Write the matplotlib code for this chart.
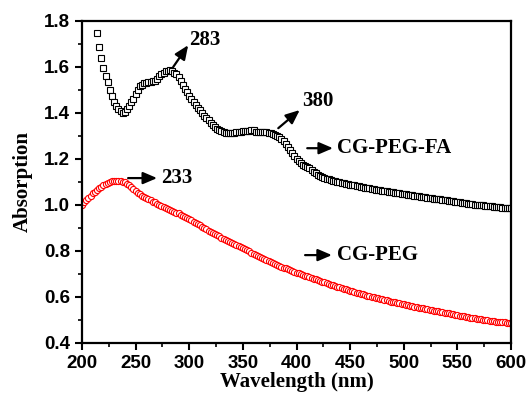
import numpy as np
import matplotlib
matplotlib.use("Agg")
import matplotlib.pyplot as plt

# UV-vis absorption spectra (2 nm steps)
wl_fa = np.arange(214, 601, 2)
abs_fa = [
    1.746, 1.687, 1.638, 1.593, 1.561, 1.532, 1.500, 1.474, 1.449, 1.430,
    1.418, 1.407, 1.401, 1.403, 1.416, 1.430, 1.445, 1.462, 1.480, 1.500,
    1.515, 1.523, 1.528, 1.531, 1.533, 1.535, 1.537, 1.540, 1.548, 1.558,
    1.567, 1.575, 1.580, 1.583, 1.584, 1.582, 1.575, 1.567, 1.555, 1.538,
    1.522, 1.505, 1.490, 1.475, 1.460, 1.449, 1.435, 1.422, 1.410, 1.398,
    1.387, 1.378, 1.369, 1.357, 1.345, 1.337, 1.330, 1.324, 1.319, 1.316,
    1.314, 1.313, 1.313, 1.313, 1.314, 1.315, 1.316, 1.318, 1.319, 1.320,
    1.321, 1.322, 1.326, 1.324, 1.317, 1.315, 1.315, 1.315, 1.315, 1.315,
    1.314, 1.312, 1.309, 1.305, 1.300, 1.293, 1.285, 1.276, 1.264, 1.250,
    1.237, 1.225, 1.212, 1.200, 1.190, 1.182, 1.175, 1.169, 1.164, 1.158,
    1.149, 1.141, 1.136, 1.131, 1.125, 1.121, 1.117, 1.114, 1.111, 1.108,
    1.105, 1.102, 1.100, 1.098, 1.096, 1.094, 1.092, 1.090, 1.088, 1.086,
    1.084, 1.082, 1.081, 1.079, 1.077, 1.075, 1.073, 1.071, 1.069, 1.068,
    1.066, 1.064, 1.063, 1.061, 1.060, 1.058, 1.057, 1.055, 1.054, 1.052,
    1.051, 1.049, 1.048, 1.047, 1.045, 1.044, 1.042, 1.041, 1.040, 1.038,
    1.037, 1.035, 1.034, 1.033, 1.031, 1.030, 1.028, 1.027, 1.026, 1.024,
    1.023, 1.021, 1.020, 1.019, 1.017, 1.016, 1.015, 1.013, 1.012, 1.011,
    1.009, 1.008, 1.007, 1.005, 1.004, 1.003, 1.001, 1.000, 0.999, 0.998,
    0.997, 0.996, 0.995, 0.994, 0.993, 0.992, 0.991, 0.990, 0.989, 0.988,
    0.987, 0.986, 0.985, 0.984,
]

wl_peg = np.arange(200, 601, 2)
abs_peg = [
    1.000, 1.010, 1.020, 1.030, 1.040, 1.049, 1.057, 1.065, 1.072, 1.079,
    1.085, 1.090, 1.095, 1.099, 1.102, 1.104, 1.105, 1.105, 1.104, 1.101,
    1.097, 1.092, 1.085, 1.077, 1.068, 1.060, 1.053, 1.046, 1.040, 1.034,
    1.028, 1.023, 1.019, 1.014, 1.010, 1.005, 1.001, 0.996, 0.992, 0.987,
    0.983, 0.979, 0.975, 0.970, 0.966, 0.962, 0.957, 0.952, 0.947, 0.942,
    0.937, 0.932, 0.926, 0.921, 0.915, 0.910, 0.904, 0.899, 0.893, 0.888,
    0.882, 0.877, 0.872, 0.867, 0.862, 0.857, 0.852, 0.848, 0.843, 0.839,
    0.834, 0.830, 0.826, 0.821, 0.817, 0.813, 0.808, 0.803, 0.797, 0.792,
    0.787, 0.782, 0.777, 0.772, 0.767, 0.762, 0.758, 0.754, 0.750, 0.746,
    0.742, 0.738, 0.734, 0.731, 0.727, 0.723, 0.719, 0.716, 0.712, 0.709,
    0.705, 0.702, 0.698, 0.695, 0.691, 0.688, 0.685, 0.682, 0.678, 0.675,
    0.672, 0.669, 0.666, 0.662, 0.659, 0.656, 0.653, 0.650, 0.647, 0.644,
    0.641, 0.638, 0.635, 0.632, 0.629, 0.626, 0.623, 0.620, 0.618, 0.615,
    0.612, 0.610, 0.607, 0.605, 0.602, 0.600, 0.598, 0.595, 0.593, 0.590,
    0.588, 0.586, 0.584, 0.581, 0.579, 0.577, 0.575, 0.573, 0.571, 0.569,
    0.567, 0.565, 0.563, 0.561, 0.559, 0.557, 0.555, 0.553, 0.551, 0.549,
    0.547, 0.545, 0.543, 0.542, 0.540, 0.538, 0.536, 0.534, 0.533, 0.531,
    0.529, 0.527, 0.525, 0.524, 0.522, 0.520, 0.518, 0.516, 0.515, 0.513,
    0.511, 0.509, 0.508, 0.506, 0.505, 0.503, 0.502, 0.500, 0.499, 0.497,
    0.496, 0.495, 0.494, 0.492, 0.491, 0.490, 0.489, 0.488, 0.486, 0.485,
    0.484,
]

xticks = [200, 250, 300, 350, 400, 450, 500, 550, 600]
yticks = [0.4, 0.6, 0.8, 1.0, 1.2, 1.4, 1.6, 1.8]

fig = plt.figure(figsize=(5.31, 3.93), dpi=100)
ax = fig.add_axes([0.1544, 0.128, 0.808, 0.819])

ax.plot(wl_fa, abs_fa, ls="none", marker="s", ms=4.0, mfc="white",
        mec="black", mew=0.8)
ax.plot(wl_peg, abs_peg, ls="none", marker="o", ms=4.4, mfc="white",
        mec="red", mew=0.8)

ax.set_xlim(200, 600)
ax.set_ylim(0.4, 1.8)
ax.set_xticks(xticks)
ax.set_yticks(yticks)
ax.set_xticks([225, 275, 325, 375, 425, 475, 525, 575], minor=True)
ax.set_yticks([0.5, 0.7, 0.9, 1.1, 1.3, 1.5, 1.7], minor=True)
ax.set_yticklabels(["%.1f" % v for v in yticks])
ax.tick_params(which="major", direction="out", length=5, width=1.5)
ax.tick_params(which="minor", direction="out", length=3, width=1.2)
for lab in ax.get_xticklabels() + ax.get_yticklabels():
    lab.set_family("Liberation Sans")
    lab.set_fontweight("bold")
    lab.set_fontsize(13.5)
for sp in ax.spines.values():
    sp.set_linewidth(1.6)

serif = dict(family="Liberation Serif", fontweight="bold")
ax.set_xlabel("Wavelength (nm)", fontsize=15, labelpad=0, **serif)
ax.set_ylabel("Absorption", fontsize=15, labelpad=8, **serif)

arw = dict(arrowstyle="-|>,head_length=0.7,head_width=0.3", color="black",
           lw=1.6, mutation_scale=12, shrinkA=0, shrinkB=0)
ax.annotate("", xy=(299, 1.694), xytext=(285, 1.599), arrowprops=arw)
ax.text(300, 1.716, "283", fontsize=15, va="center", **serif)
ax.annotate("", xy=(403, 1.412), xytext=(383, 1.333), arrowprops=arw)
ax.text(405, 1.451, "380", fontsize=15, va="center", **serif)
ax.annotate("", xy=(270, 1.116), xytext=(243, 1.116), arrowprops=arw)
ax.text(274, 1.116, "233", fontsize=15, va="center", **serif)
ax.annotate("", xy=(434, 1.246), xytext=(410, 1.246), arrowprops=arw)
ax.text(438, 1.246, "CG-PEG-FA", fontsize=15, va="center", **serif)
ax.annotate("", xy=(433, 0.781), xytext=(408, 0.781), arrowprops=arw)
ax.text(438, 0.781, "CG-PEG", fontsize=15, va="center", **serif)

fig.savefig("out.png", dpi=100)
